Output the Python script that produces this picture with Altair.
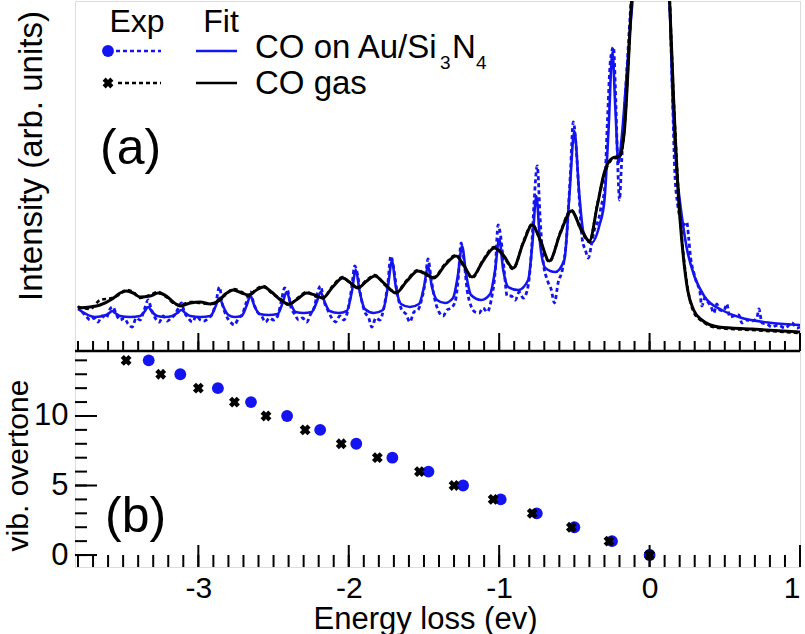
import altair as alt
import pandas as pd

# ---------------- panel (a): spectra (energy loss in eV, intensity arb. units) -------------
blue_fit_e = [-3.80, -3.687, -3.613, -3.593, -3.573, -3.553, -3.52, -3.453, -3.387, -3.36, -3.333, -3.307,
              -3.273, -3.22, -3.173, -3.14, -3.113, -3.087, -3.053, -2.987, -2.92, -2.887, -2.86, -2.833,
              -2.80, -2.76, -2.713, -2.68, -2.653, -2.627, -2.593, -2.533, -2.473, -2.44, -2.413, -2.387,
              -2.353, -2.30, -2.247, -2.213, -2.187, -2.16, -2.127, -2.067, -2.013, -1.98, -1.953, -1.927,
              -1.893, -1.833, -1.773, -1.74, -1.713, -1.687, -1.653, -1.593, -1.533, -1.50, -1.473, -1.447,
              -1.413, -1.36, -1.307, -1.273, -1.247, -1.22, -1.187, -1.12, -1.06, -1.027, -1.00, -0.973,
              -0.94, -0.873, -0.807, -0.78, -0.753, -0.727, -0.693, -0.627, -0.567, -0.533, -0.50, -0.467,
              -0.44, -0.387, -0.333, -0.30, -0.273, -0.247, -0.227, -0.207, -0.187, -0.16, -0.133, -0.113,
              -0.08, 0.0, 0.087, 0.133, 0.153, 0.18, 0.213, 0.247, 0.30, 0.367, 0.48, 0.593, 0.813, 1.0]
blue_fit_i = [41, 33, 35, 37, 39, 37, 34, 33, 34, 38, 43, 38,
              34, 33, 34, 37, 40, 37, 34, 33, 34, 43, 52, 43,
              35, 33, 34, 44, 54, 44, 36, 35, 36, 47, 58, 47,
              38, 37, 38, 48, 58, 48, 39, 37, 39, 58, 80, 58,
              41, 37, 40, 63, 89, 63, 46, 43, 46, 63, 84, 63,
              50, 47, 52, 76, 104, 76, 55, 50, 56, 80, 111, 80,
              63, 60, 70, 105, 154, 105, 82, 78, 90, 155, 219, 155,
              118, 107, 125, 150, 220, 298, 240, 187, 210, 260, 315, 350,
              430, 600, 430, 350, 250, 180, 135, 102, 73, 53, 40, 33, 27, 25]

blue_exp_e = [-3.80, -3.773, -3.747, -3.72, -3.693, -3.667, -3.64, -3.613, -3.587, -3.567, -3.547, -3.52,
              -3.493, -3.467, -3.44, -3.413, -3.387, -3.36, -3.333, -3.313, -3.287, -3.26, -3.233, -3.207,
              -3.18, -3.153, -3.133, -3.113, -3.093, -3.067, -3.04, -3.013, -2.987, -2.96, -2.933, -2.907,
              -2.88, -2.86, -2.84, -2.813, -2.787, -2.76, -2.733, -2.707, -2.68, -2.653, -2.633, -2.607,
              -2.58, -2.553, -2.527, -2.50, -2.473, -2.447, -2.427, -2.407, -2.387, -2.36, -2.333, -2.307,
              -2.28, -2.253, -2.227, -2.207, -2.187, -2.167, -2.14, -2.113, -2.087, -2.06, -2.033, -2.007,
              -1.98, -1.96, -1.94, -1.92, -1.893, -1.867, -1.847, -1.82, -1.793, -1.767, -1.74, -1.72,
              -1.70, -1.673, -1.647, -1.62, -1.593, -1.567, -1.54, -1.513, -1.493, -1.473, -1.453, -1.427,
              -1.40, -1.373, -1.347, -1.32, -1.293, -1.273, -1.253, -1.233, -1.213, -1.187, -1.16, -1.133,
              -1.107, -1.08, -1.053, -1.027, -1.007, -0.987, -0.967, -0.947, -0.92, -0.893, -0.867, -0.84,
              -0.813, -0.787, -0.767, -0.747, -0.727, -0.707, -0.68, -0.653, -0.633, -0.607, -0.58, -0.553,
              -0.527, -0.507, -0.487, -0.467, -0.447, -0.427, -0.407, -0.387, -0.367, -0.34, -0.32, -0.30,
              -0.28, -0.26, -0.24, -0.227, -0.213, -0.20, -0.187, -0.167, -0.147, -0.127, -0.08, 0.0,
              0.087, 0.133, 0.153, 0.167, 0.187, 0.207, 0.227, 0.247, 0.26, 0.273, 0.293, 0.313,
              0.333, 0.347, 0.367, 0.387, 0.407, 0.427, 0.447, 0.467, 0.493, 0.513, 0.533, 0.56,
              0.593, 0.613, 0.647, 0.68, 0.713, 0.727, 0.747, 0.78, 0.813, 0.853, 0.90, 0.947, 0.98, 1.0]
blue_exp_i = [44, 38, 34, 30, 32, 28, 34, 32, 41, 43, 36, 30,
              32, 26, 23, 32, 30, 40, 50, 41, 32, 28, 34, 29,
              32, 36, 42, 47, 38, 32, 28, 34, 30, 29, 32, 36,
              50, 63, 46, 34, 28, 25, 32, 36, 48, 58, 47, 38,
              34, 28, 32, 30, 34, 50, 62, 60, 44, 36, 30, 32,
              28, 36, 44, 58, 64, 50, 40, 32, 28, 34, 30, 39,
              63, 84, 74, 54, 38, 32, 23, 32, 30, 42, 67, 94,
              80, 53, 40, 36, 28, 38, 40, 52, 67, 91, 72, 50,
              38, 34, 40, 42, 48, 70, 107, 88, 60, 44, 38, 37,
              42, 38, 50, 78, 125, 110, 80, 54, 54, 50, 58, 52,
              60, 95, 150, 184, 130, 88, 70, 60, 47, 68, 80, 110,
              175, 228, 200, 150, 110, 100, 92, 105, 120, 130, 145, 160,
              230, 290, 303, 260, 190, 150, 185, 240, 290, 340, 430, 600,
              430, 350, 250, 180, 145, 130, 125, 128, 112, 92, 78, 67,
              60, 44, 52, 48, 44, 37, 46, 40, 39, 46, 33, 34,
              35, 27, 30, 29, 32, 41, 27, 26, 23, 25, 22, 27, 22, 23]

black_fit_e = [-3.80, -3.72, -3.653, -3.573, -3.52, -3.48, -3.433, -3.387, -3.32, -3.267, -3.213, -3.167,
               -3.12, -3.053, -2.987, -2.92, -2.867, -2.82, -2.767, -2.713, -2.667, -2.613, -2.567, -2.513,
               -2.453, -2.40, -2.34, -2.28, -2.227, -2.173, -2.107, -2.04, -1.987, -1.94, -1.88, -1.827,
               -1.76, -1.687, -1.613, -1.54, -1.487, -1.433, -1.36, -1.287, -1.233, -1.18, -1.107, -1.033,
               -0.973, -0.907, -0.84, -0.78, -0.727, -0.667, -0.593, -0.52, -0.453, -0.40, -0.347, -0.30,
               -0.247, -0.20, -0.167, -0.14, -0.12, -0.08, 0.0, 0.087, 0.133, 0.16, 0.193, 0.22,
               0.253, 0.293, 0.347, 0.46, 0.68, 1.0]
black_fit_i = [42, 43, 45, 51, 57, 59, 57, 53, 54, 57, 54, 48,
               44, 47, 48, 46, 49, 56, 60, 57, 55, 60, 63, 58,
               50, 46, 51, 57, 55, 52, 63, 72, 67, 62, 69, 74,
               66, 57, 69, 79, 76, 72, 85, 94, 84, 73, 89, 102,
               95, 82, 107, 125, 110, 89, 117, 139, 120, 109, 145, 178,
               192, 194, 220, 290, 350, 440, 600, 440, 350, 250, 150, 100,
               60, 40, 30, 23, 21, 18]
black_exp_i = [43, 41, 50, 52, 56, 60, 58, 52, 55, 58, 53, 47,
               45, 48, 47, 46, 50, 55, 61, 58, 54, 61, 64, 57,
               51, 45, 52, 58, 54, 52, 64, 73, 66, 63, 70, 75,
               65, 58, 70, 80, 75, 73, 86, 95, 83, 72, 90, 103,
               94, 81, 108, 126, 109, 88, 118, 140, 119, 108, 146, 176,
               191, 193, 222, 292, 350, 440, 600, 440, 350, 252, 155, 103,
               62, 38, 29, 22, 20, 17]

# ---------------- panel (b): vibrational overtone positions -------------
overtone = list(range(15))
au_energy = [0.0, -0.25, -0.50, -0.75, -0.99, -1.24, -1.47, -1.71, -1.95, -2.19, -2.41, -2.65, -2.87, -3.12, -3.33]
gas_energy = [0.0, -0.27, -0.52, -0.78, -1.04, -1.30, -1.53, -1.81, -2.05, -2.29, -2.55, -2.76, -3.00, -3.25, -3.48]

x_major = [-3, -2, -1, 0, 1]
x_minor = [round(-3.8 + 0.1 * k, 1) for k in range(49)]
y_major = [0, 5, 10]
y_minor = list(range(15))

# ---------------- layout constants -------------
W, H = 725, 566
A_BOTTOM = 350
FONT = "Liberation Sans"
BLUE = "#1414f0"

x_dom = [-3.82, 1.0]
xa = alt.Axis(values=x_major, ticks=False, domain=False, grid=False, labelFontSize=30, labelFont=FONT,
              labelColor="black", labelPadding=6, title="Energy loss (ev)", titleFontSize=31,
              titleFont=FONT, titleFontWeight="normal", titleColor="black",
              titleX=350, titleY=61, titleBaseline="alphabetic", titleAlign="center",
              labelExpr="datum.value < 0 ? '-' + abs(datum.value) : '' + datum.value")


def X(field):
    return alt.X(field, type="quantitative", scale=alt.Scale(domain=x_dom, nice=False, zero=False), axis=xa)


ya_scale = alt.Scale(domain=[0, 349], range=[349, 0], zero=False, nice=False)
yb_scale = alt.Scale(domain=[-0.86, 14.6], range=[566, 351], zero=False, nice=False)


def spec(e, i, color, dash=None, width=2.6):
    df = pd.DataFrame({"e": e, "i": i})
    kw = dict(color=color, strokeWidth=width, clip=True, interpolate="monotone")
    if dash:
        kw["strokeDash"] = dash
    return alt.Chart(df).mark_line(**kw).encode(
        x=X("e"), y=alt.Y("i:Q", scale=ya_scale, axis=None))


layers = [
    spec(blue_exp_e, blue_exp_i, BLUE, dash=[4, 3], width=2.8),
    spec(blue_fit_e, blue_fit_i, BLUE, width=2.6),
    spec(black_fit_e, black_exp_i, "black", dash=[4, 3], width=2.6),
    spec(black_fit_e, black_fit_i, "black", width=3),
]

df_au = pd.DataFrame({"e": au_energy, "n": overtone})
df_gas = pd.DataFrame({"e": gas_energy, "n": overtone})
yb_axis = alt.Axis(values=y_major, ticks=False, domain=False, grid=False, labelFontSize=31, labelFont=FONT,
                   labelColor="black", labelPadding=7, title="vib. overtone", titleFontSize=30,
                   titleFont=FONT, titleFontWeight="normal", titleColor="black",
                   titleX=-48, titleY=464, titleAngle=270, titleBaseline="alphabetic", titleAlign="center")
layers.append(alt.Chart(df_au).mark_point(filled=True, size=140, color=BLUE, opacity=1, shape="circle").encode(
    x=X("e"), y=alt.Y("n:Q", scale=yb_scale, axis=yb_axis)))
layers.append(alt.Chart(df_gas).mark_point(filled=True, size=120, color="black", opacity=1, shape="cross",
                                           angle=45).encode(
    x=X("e"), y=alt.Y("n:Q", scale=yb_scale, axis=None)))

# inward ticks
df_xmin = pd.DataFrame({"t": x_minor})
df_xmaj = pd.DataFrame({"t": x_major})
df_ymin = pd.DataFrame({"t": y_minor})
df_ymaj = pd.DataFrame({"t": y_major})
tick = dict(color="black", strokeWidth=2)
layers += [
    alt.Chart(df_xmin).mark_rule(**tick).encode(x=X("t"), y=alt.value(A_BOTTOM - 10), y2=alt.value(A_BOTTOM)),
    alt.Chart(df_xmaj).mark_rule(**tick).encode(x=X("t"), y=alt.value(A_BOTTOM - 18), y2=alt.value(A_BOTTOM)),
    alt.Chart(df_xmin).mark_rule(**tick).encode(x=X("t"), y=alt.value(H - 12), y2=alt.value(H)),
    alt.Chart(df_xmaj).mark_rule(**tick).encode(x=X("t"), y=alt.value(H - 22), y2=alt.value(H)),
    alt.Chart(df_ymin).mark_rule(**tick).encode(y=alt.Y("t:Q", scale=yb_scale, axis=None),
                                                x=alt.value(0), x2=alt.value(12)),
    alt.Chart(df_ymaj).mark_rule(**tick).encode(y=alt.Y("t:Q", scale=yb_scale, axis=None),
                                                x=alt.value(0), x2=alt.value(22)),
]

one = pd.DataFrame({"k": [0]})
# divider between panels
layers.append(alt.Chart(one).mark_rule(color="black", strokeWidth=2.6).encode(
    x=alt.value(0), x2=alt.value(W), y=alt.value(A_BOTTOM)))


def txt(s, x, y, size, align="left", baseline="alphabetic", angle=0):
    kw = dict(font=FONT, fontSize=size, color="black", align=align, baseline=baseline)
    if angle:
        kw["angle"] = angle
    return alt.Chart(one).mark_text(**kw).encode(x=alt.value(x), y=alt.value(y), text=alt.value(s))


# legend
layers += [
    txt("Exp", 62, 31, 32, align="center"),
    txt("Fit", 146, 31, 32, align="center"),
    alt.Chart(one).mark_point(filled=True, size=140, color=BLUE, opacity=1, shape="circle").encode(
        x=alt.value(33), y=alt.value(50)),
    alt.Chart(one).mark_rule(color=BLUE, strokeWidth=2.6, strokeDash=[4, 3]).encode(
        x=alt.value(41), x2=alt.value(86), y=alt.value(50)),
    alt.Chart(one).mark_rule(color=BLUE, strokeWidth=2.6).encode(
        x=alt.value(121), x2=alt.value(162), y=alt.value(50)),
    alt.Chart(one).mark_point(filled=True, size=120, color="black", opacity=1, shape="cross", angle=45).encode(
        x=alt.value(33), y=alt.value(82)),
    alt.Chart(one).mark_rule(color="black", strokeWidth=2.6, strokeDash=[4, 3]).encode(
        x=alt.value(43), x2=alt.value(86), y=alt.value(82)),
    alt.Chart(one).mark_rule(color="black", strokeWidth=2.6).encode(
        x=alt.value(121), x2=alt.value(162), y=alt.value(82)),
    txt("CO on Au/Si", 180, 57, 33),
    txt("3", 365, 68, 19),
    txt("N", 377, 57, 33),
    txt("4", 401, 68, 19),
    txt("CO gas", 180, 93, 33),
    txt("(a)", 25, 163, 50),
    txt("(b)", 30, 531, 50),
    txt("Intensity (arb. units)", -33, 155, 33, align="center", angle=270),
]

chart = alt.layer(*layers).resolve_scale(y="independent").resolve_axis(y="independent").properties(
    width=W, height=H,
    autosize=alt.AutoSizeParams(type="none"),
    padding={"left": 75, "top": 1, "right": 5, "bottom": 67},
).configure_view(stroke="black", strokeWidth=2.6).configure(background="white")

chart.save("out.html", embed_options={"renderer": "svg", "actions": False})
